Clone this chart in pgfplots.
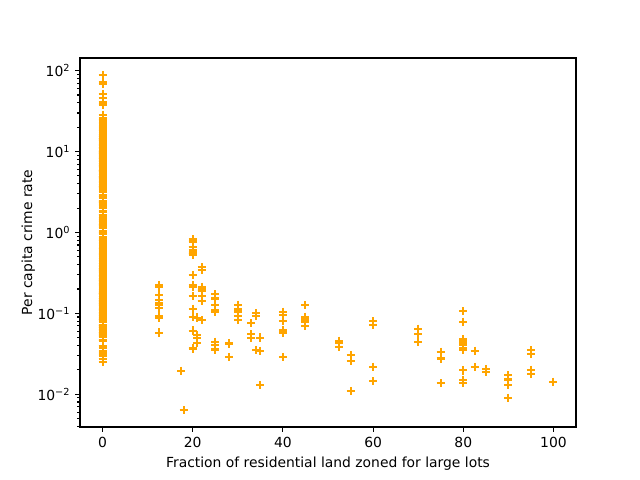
\documentclass[border=0pt]{standalone}
\usepackage{fontspec}
\setmainfont{DejaVu Sans}
\usepackage{pgfplots}
\pgfplotsset{compat=1.18}
\definecolor{mplorange}{RGB}{255,165,0}
\begin{document}
\begin{tikzpicture}
\path[use as bounding box] (-57.6pt,-38.16pt) rectangle (403.2pt,307.44pt);
\begin{axis}[
  at={(0,0)}, anchor=south west,
  scale only axis, width=357.12pt, height=265.68pt,
  ymode=log,
  xmin=-5, xmax=105,
  ymin=0.00393, ymax=143.6,
  xtick={0,20,40,60,80,100},
  ytick={0.01,0.1,1,10,100},
  yticklabels={10\textsuperscript{−2},10\textsuperscript{−1},10\textsuperscript{0},10\textsuperscript{1},10\textsuperscript{2}},
  minor ytick={0.004,0.005,0.006,0.007,0.008,0.009,0.02,0.03,0.04,0.05,0.06,0.07,0.08,0.09,0.2,0.3,0.4,0.5,0.6,0.7,0.8,0.9,2,3,4,5,6,7,8,9,20,30,40,50,60,70,80,90},
  tick pos=left,
  tick align=outside,
  major tick length=3.5pt,
  minor tick length=2pt,
  every tick/.style={black, line width=0.8pt},
  axis line style={line width=0.8pt},
  /pgf/number format/assume math mode=true,
  tick label style={font=\fontsize{10}{12}\selectfont},
  label style={font=\fontsize{10}{12}\selectfont},
  xlabel={Fraction of residential land zoned for large lots},
  ylabel={Per capita crime rate},
  ylabel shift=-5pt,
  clip=true,
]
\addplot[only marks, mark=+, mark size=2.9pt, mark options={line width=1.45pt}, color=mplorange] coordinates {
(18,0.00632) (0,0.02731) (0,0.02729) (0,0.03237) (0,0.06905) (0,0.02985)
(12.5,0.08829) (12.5,0.14455) (12.5,0.21124) (12.5,0.17004) (12.5,0.22489) (12.5,0.11747) (12.5,0.09378)
(0,0.62976) (0,0.63796) (0,0.62739) (0,1.05393) (0,0.7842) (0,0.80271) (0,0.7258) (0,1.25179) (0,0.85204) (0,1.23247)
(0,0.98843) (0,0.75026) (0,0.84054) (0,0.67191) (0,0.95577) (0,0.77299) (0,1.00245) (0,1.13081) (0,1.35472) (0,1.38799)
(0,1.15172) (0,1.61282) (0,0.06417) (0,0.09744) (0,0.08014) (0,0.17505)
(75,0.02763) (75,0.03359)
(0,0.12744) (0,0.1415) (0,0.15936) (0,0.12269) (0,0.17142) (0,0.18836) (0,0.22927) (0,0.25387) (0,0.21977)
(21,0.08873) (21,0.04337) (21,0.0536) (21,0.04981)
(75,0.0136) (90,0.01311) (85,0.02055) (100,0.01432)
(25,0.15445) (25,0.10328) (25,0.14932) (25,0.17171) (25,0.11027) (25,0.1265)
(17.5,0.01951) (80,0.03584) (80,0.04379)
(12.5,0.05789) (12.5,0.13554) (12.5,0.12816)
(0,0.08826) (0,0.15876) (0,0.09164) (0,0.19539) (0,0.07896) (0,0.09512) (0,0.10153) (0,0.08707) (0,0.05646) (0,0.08387)
(25,0.04113) (25,0.04462) (25,0.03659) (25,0.03551)
(0,0.05059) (0,0.05735) (0,0.05188) (0,0.07151) (0,0.0566) (0,0.05302) (0,0.04684) (0,0.03932)
(28,0.04203) (28,0.02875) (28,0.04294)
(0,0.12204) (0,0.11504) (0,0.12083) (0,0.08187) (0,0.0686) (0,0.14866) (0,0.11432) (0,0.22876) (0,0.21161) (0,0.1396)
(0,0.13262) (0,0.1712) (0,0.13117) (0,0.12802) (0,0.26363) (0,0.10793) (0,0.10084) (0,0.12329) (0,0.22212) (0,0.14231)
(0,0.17134) (0,0.13158) (0,0.15098) (0,0.13058) (0,0.14476) (0,0.06899) (0,0.07165) (0,0.09299) (0,0.15038) (0,0.09849)
(0,0.16902) (0,0.38735) (0,0.25915) (0,0.32543) (0,0.88125) (0,0.34006) (0,1.19294) (0,0.59005) (0,0.32982) (0,0.97617)
(0,0.55778) (0,0.32264) (0,0.35233) (0,0.2498) (0,0.54452) (0,0.2909) (0,1.62864) (0,3.32105) (0,4.0974) (0,2.77974)
(0,2.37934) (0,2.15505) (0,2.36862) (0,2.33099) (0,2.73397) (0,1.6566) (0,1.49632) (0,1.12658) (0,2.14918) (0,1.41385)
(0,3.53501) (0,2.44668) (0,1.22358) (0,1.34284) (0,1.42502) (0,1.27346) (0,1.46336) (0,1.83377) (0,1.51902) (0,2.24236)
(0,2.924) (0,2.01019) (0,1.80028) (0,2.3004) (0,2.44953) (0,1.20742) (0,2.3139) (0,0.13914) (0,0.09178) (0,0.08447)
(0,0.06664) (0,0.07022) (0,0.05425) (0,0.06642) (0,0.0578) (0,0.06588) (0,0.06888) (0,0.09103) (0,0.10008) (0,0.08308)
(0,0.06047) (0,0.05602)
(45,0.07875) (45,0.12579) (45,0.0837) (45,0.09068) (45,0.06911) (45,0.08664)
(60,0.02187) (60,0.01439)
(80,0.01381) (80,0.04011) (80,0.04666) (80,0.03768)
(95,0.0315) (95,0.01778) (82.5,0.03445) (82.5,0.02177) (95,0.0351) (95,0.02009)
(0,0.13642) (0,0.22969) (0,0.25199) (0,0.13587) (0,0.43571) (0,0.17446) (0,0.37578) (0,0.21719) (0,0.14052) (0,0.28955)
(0,0.19802) (0,0.0456) (0,0.07013) (0,0.11069) (0,0.11425) (0,0.35809) (0,0.40771) (0,0.62356) (0,0.6147) (0,0.31533)
(0,0.52693) (0,0.38214) (0,0.41238) (0,0.29819) (0,0.44178) (0,0.537) (0,0.46296) (0,0.57529) (0,0.33147) (0,0.44791)
(0,0.33045) (0,0.52058) (0,0.51183)
(30,0.08244) (30,0.09252) (30,0.11329) (30,0.10612) (30,0.1029) (30,0.12757)
(22,0.20608) (22,0.19133) (22,0.33983) (22,0.19657) (22,0.16439) (22,0.19073) (22,0.1403) (22,0.21409) (22,0.08221) (22,0.36894)
(80,0.04819) (80,0.03548) (90,0.01538)
(20,0.61154) (20,0.66351) (20,0.65665) (20,0.54011) (20,0.53412) (20,0.52014) (20,0.82526) (20,0.55007) (20,0.76162) (20,0.7857)
(20,0.57834) (20,0.5405) (20,0.09065) (20,0.29916) (20,0.16211) (20,0.1146) (20,0.22188)
(40,0.05644) (40,0.09604) (40,0.10469) (40,0.06127) (40,0.07978)
(20,0.21038) (20,0.03578) (20,0.03705) (20,0.06129)
(90,0.01501) (90,0.00906) (55,0.01096) (80,0.01965)
(52.5,0.03871) (52.5,0.0459) (52.5,0.04297)
(80,0.03502) (80,0.07886) (80,0.03615)
(0,0.08265) (0,0.08199) (0,0.12932) (0,0.05372) (0,0.14103)
(70,0.06466) (70,0.05561) (70,0.04417)
(34,0.03537) (34,0.09266) (34,0.1)
(33,0.05515) (33,0.05479) (33,0.07503) (33,0.04932)
(0,0.49298) (0,0.3494) (0,2.63548) (0,0.79041) (0,0.26169) (0,0.26938) (0,0.3692) (0,0.25356) (0,0.31827) (0,0.24522)
(0,0.40202) (0,0.47547) (0,0.1676) (0,0.18159) (0,0.35114) (0,0.28392) (0,0.34109) (0,0.19186) (0,0.30347) (0,0.24103)
(0,0.06617) (0,0.06724) (0,0.04544)
(35,0.05023) (35,0.03466)
(0,0.05083) (0,0.03738) (0,0.03961) (0,0.03427) (0,0.03041) (0,0.03306) (0,0.05497) (0,0.06151)
(35,0.01301) (0,0.02498) (55,0.02543) (55,0.03049) (0,0.03113) (0,0.06162)
(85,0.0187) (80,0.01501) (40,0.02899) (40,0.06211) (60,0.0795) (60,0.07244) (90,0.01709) (80,0.04301) (80,0.10659)
(0,8.98296) (0,3.8497) (0,5.20177) (0,4.26131) (0,4.54192) (0,3.83684) (0,3.67822) (0,4.22239) (0,3.47428) (0,4.55587)
(0,3.69695) (0,13.5222) (0,4.89822) (0,5.66998) (0,6.53876) (0,9.2323) (0,8.26725) (0,11.1081) (0,18.4982) (0,19.6091)
(0,15.288) (0,9.82349) (0,23.6482) (0,17.8667) (0,88.9762) (0,15.8744) (0,9.18702) (0,7.99248) (0,20.0849) (0,16.8118)
(0,24.3938) (0,22.5971) (0,14.3337) (0,8.15174) (0,6.96215) (0,5.29305) (0,11.5779) (0,8.64476) (0,13.3598) (0,8.71675)
(0,5.87205) (0,7.67202) (0,38.3518) (0,9.91655) (0,25.0461) (0,14.2362) (0,9.59571) (0,24.8017) (0,41.5292) (0,67.9208)
(0,20.7162) (0,11.9511) (0,7.40389) (0,14.4383) (0,51.1358) (0,14.0507) (0,18.811) (0,28.6558) (0,45.7461) (0,18.0846)
(0,10.8342) (0,25.9406) (0,73.5341) (0,11.8123) (0,11.0874) (0,7.02259) (0,12.0482) (0,7.05042) (0,8.79212) (0,15.8603)
(0,12.2472) (0,37.6619) (0,7.36711) (0,9.33889) (0,8.49213) (0,10.0623) (0,6.44405) (0,5.58107) (0,13.9134) (0,11.1604)
(0,14.4208) (0,15.1772) (0,13.6781) (0,9.39063) (0,22.0511) (0,9.72418) (0,5.66637) (0,9.96654) (0,12.8023) (0,10.6718)
(0,6.28807) (0,9.92485) (0,9.32909) (0,7.52601) (0,6.71772) (0,5.44114) (0,5.09017) (0,8.24809) (0,9.51363) (0,4.75237)
(0,4.66883) (0,8.20058) (0,7.75223) (0,6.80117) (0,4.81213) (0,3.69311) (0,6.65492) (0,5.82115) (0,7.83932) (0,3.1636)
(0,3.77498) (0,4.42228) (0,15.5757) (0,13.0751) (0,4.34879) (0,4.03841) (0,3.56868) (0,4.64689) (0,8.05579) (0,6.39312)
(0,4.87141) (0,15.0234) (0,10.233) (0,14.3337) (0,5.82401) (0,5.70818) (0,5.73116) (0,2.81838) (0,2.37857) (0,3.67367)
(0,5.69175) (0,4.83567) (0,0.15086) (0,0.18337) (0,0.20746) (0,0.10574) (0,0.11132) (0,0.17331) (0,0.27957) (0,0.17899)
(0,0.2896) (0,0.26838) (0,0.23912) (0,0.17783) (0,0.22438) (0,0.06263) (0,0.04527) (0,0.06076) (0,0.10959) (0,0.04741)
};
\end{axis}
\end{tikzpicture}
\end{document}
